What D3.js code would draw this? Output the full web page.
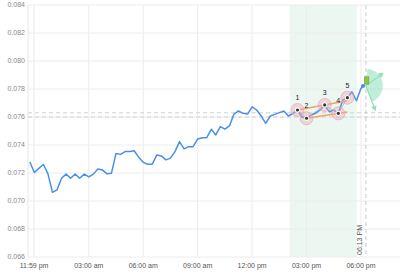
<!DOCTYPE html>
<html>
<head>
<meta charset="utf-8">
<script src="https://cdn.jsdelivr.net/npm/d3@7"></script>
<style>
  body { margin: 0; background: #fff; }
  svg { display: block; font-family: "Liberation Sans", Arial, sans-serif; }
</style>
</head>
<body>
<div id="chart"></div>
<script>
// price series, one value every 15 minutes from 23:45, then the live point
const startTime = "2024-01-01 23:45";
const stepMinutes = 15;
const prices = [
  0.07279, 0.07204, 0.07233, 0.07261, 0.07194, 0.07062, 0.07080, 0.07162,
  0.07192, 0.07162, 0.07192, 0.07162, 0.07192, 0.07172, 0.07192, 0.07229,
  0.07222, 0.07194, 0.07199, 0.07340, 0.07333, 0.07353, 0.07353, 0.07359,
  0.07313, 0.07276, 0.07263, 0.07263, 0.07329, 0.07322, 0.07294, 0.07306,
  0.07353, 0.07424, 0.07372, 0.07388, 0.07388, 0.07443, 0.07452, 0.07452,
  0.07512, 0.07472, 0.07531, 0.07514, 0.07536, 0.07621, 0.07643, 0.07626,
  0.07621, 0.07673, 0.07650, 0.07607, 0.07555, 0.07607, 0.07619, 0.07631,
  0.07643, 0.07607, 0.07626, 0.07650, 0.07600, 0.07591, 0.07614, 0.07627,
  0.07650, 0.07686, 0.07638, 0.07650, 0.07626, 0.07721, 0.07738, 0.07780,
  0.07716, 0.07805
];
const lastTime = "2024-01-02 18:13";
const lastPrice = 0.07828;

// axis
const xDomain = ["2024-01-01 23:39", "2024-01-02 20:09"];
const xTicks = ["2024-01-01 23:59", "2024-01-02 03:00", "2024-01-02 06:00",
  "2024-01-02 09:00", "2024-01-02 12:00", "2024-01-02 15:00", "2024-01-02 18:00"];
const yTicks = [0.066, 0.068, 0.070, 0.072, 0.074, 0.076, 0.078, 0.080, 0.082, 0.084];

// annotations
const bandRange = ["2024-01-02 14:04", "2024-01-02 17:46"];
const priceLines = [0.0763, 0.0760];
const patternLabels = ["1", "2", "3", "4", "5"];
const patternTimes = ["2024-01-02 14:30", "2024-01-02 15:00", "2024-01-02 16:00",
  "2024-01-02 16:45", "2024-01-02 17:15"];
const patternValues = [0.07650, 0.07591, 0.07686, 0.07626, 0.07738];
const trendUpper = [["2024-01-02 14:30", 0.07650], ["2024-01-02 17:15", 0.07716]];
const trendLower = [["2024-01-02 15:00", 0.07591], ["2024-01-02 17:15", 0.07636]];
const boxRange = [["2024-01-02 18:11", 0.07887], ["2024-01-02 18:26", 0.07835]];
const fanCenter = ["2024-01-02 18:16", 0.07823];
const fanEnds = [["2024-01-02 19:12", 0.07911], ["2024-01-02 18:47", 0.07650]];

const W = 400, H = 280;
const margin = {top: 5, right: 0, bottom: 23, left: 28};
const parse = d3.timeParse("%Y-%m-%d %H:%M");

const t0 = parse(startTime);
const series = prices.map((v, i) => ({t: d3.timeMinute.offset(t0, i * stepMinutes), v: v}));
series.push({t: parse(lastTime), v: lastPrice});

const x = d3.scaleTime()
  .domain(xDomain.map(parse))
  .range([margin.left, W - margin.right]);
const y = d3.scaleLinear()
  .domain([0.066, 0.084])
  .range([H - margin.bottom, margin.top]);

const svg = d3.select("#chart").append("svg")
  .attr("width", W)
  .attr("height", H);

// highlighted band
svg.append("rect")
  .attr("x", x(parse(bandRange[0])))
  .attr("y", margin.top)
  .attr("width", x(parse(bandRange[1])) - x(parse(bandRange[0])))
  .attr("height", y(0.066) - margin.top)
  .attr("fill", "#edf7f2");

// grid
svg.append("g").selectAll("line")
  .data(yTicks)
  .enter().append("line")
  .attr("x1", margin.left).attr("x2", W)
  .attr("y1", d => y(d)).attr("y2", d => y(d))
  .attr("stroke", "#ececec");

svg.append("g").selectAll("line")
  .data(xTicks.map(parse))
  .enter().append("line")
  .attr("x1", d => x(d)).attr("x2", d => x(d))
  .attr("y1", margin.top).attr("y2", y(0.066))
  .attr("stroke", "#ececec");

svg.append("line")
  .attr("x1", margin.left).attr("x2", margin.left)
  .attr("y1", margin.top).attr("y2", y(0.066))
  .attr("stroke", "#e6e6e6");

// y labels
svg.append("g").selectAll("text")
  .data(yTicks)
  .enter().append("text")
  .attr("x", margin.left - 3)
  .attr("y", d => y(d))
  .attr("dy", "0.35em")
  .attr("text-anchor", "end")
  .attr("font-size", 7)
  .attr("fill", "#888")
  .text(d3.format(".3f"));

// x labels
const fmt = d3.timeFormat("%I:%M %p");
svg.append("g").selectAll("text")
  .data(xTicks.map(parse))
  .enter().append("text")
  .attr("x", d => x(d))
  .attr("y", y(0.066) + 11)
  .attr("text-anchor", "middle")
  .attr("font-size", 7)
  .attr("fill", "#555")
  .text(d => fmt(d).toLowerCase());

// dashed price lines
svg.append("g").selectAll("line")
  .data(priceLines)
  .enter().append("line")
  .attr("x1", margin.left).attr("x2", W)
  .attr("y1", d => y(d)).attr("y2", d => y(d))
  .attr("stroke", "#d0d0d0")
  .attr("stroke-dasharray", "4,3");

// current time line
const tNow = parse(lastTime);
svg.append("line")
  .attr("x1", x(tNow) + 1).attr("x2", x(tNow) + 1)
  .attr("y1", margin.top).attr("y2", y(0.066))
  .attr("stroke", "#c8c8c8")
  .attr("stroke-dasharray", "4,3");
svg.append("text")
  .attr("transform", "translate(" + (x(tNow) - 3) + "," + (y(0.066) - 2) + ") rotate(-90)")
  .attr("font-size", 7)
  .attr("fill", "#555")
  .text(d3.timeFormat("%I:%M %p")(tNow));

// price line
const line = d3.line().x(d => x(d.t)).y(d => y(d.v));
svg.append("path")
  .datum(series)
  .attr("d", line)
  .attr("fill", "none")
  .attr("stroke", "#4a8fe7")
  .attr("stroke-width", 1.5)
  .attr("stroke-linejoin", "round");

svg.append("circle")
  .attr("cx", x(tNow) - 2).attr("cy", y(lastPrice) + 1)
  .attr("r", 2)
  .attr("fill", "#4a8fe7");

// pattern trend lines
const seg = d3.line().x(d => x(parse(d[0]))).y(d => y(d[1]));
[trendUpper, trendLower].forEach(function(tl) {
  svg.append("path")
    .attr("d", seg(tl))
    .attr("stroke", "#f3a262")
    .attr("stroke-width", 1.5)
    .attr("fill", "none");
});

const pts = patternTimes.map((t, i) => [t, patternValues[i]]);
svg.append("path")
  .attr("d", seg(pts))
  .attr("stroke", "#999")
  .attr("stroke-opacity", 0.6)
  .attr("stroke-width", 1)
  .attr("fill", "none");

const pg = svg.append("g").selectAll("g")
  .data(pts)
  .enter().append("g")
  .attr("transform", d => "translate(" + x(parse(d[0])) + "," + y(d[1]) + ")");
pg.append("circle").attr("r", 6.5)
  .attr("fill", "rgba(232,165,180,0.4)")
  .attr("stroke", "rgba(232,165,180,0.7)");
pg.append("circle").attr("r", 2.6).attr("fill", "#fff");
pg.append("circle").attr("r", 1.6).attr("fill", "#333");
pg.append("text")
  .attr("y", -10)
  .attr("text-anchor", "middle")
  .attr("font-size", 7)
  .attr("fill", "#222")
  .text((d, i) => patternLabels[i]);

// fan drawing
const fc = [x(parse(fanCenter[0])), y(fanCenter[1])];
svg.append("path")
  .attr("transform", "translate(" + fc[0] + "," + fc[1] + ")")
  .attr("d", d3.arc()({innerRadius: 0, outerRadius: 17, startAngle: 0.1, endAngle: 2.78}))
  .attr("fill", "rgba(130,222,180,0.5)");

fanEnds.forEach(function(e) {
  const ex = x(parse(e[0])), ey = y(e[1]);
  svg.append("line")
    .attr("x1", fc[0]).attr("y1", fc[1])
    .attr("x2", ex).attr("y2", ey)
    .attr("stroke", "#8fe0bb")
    .attr("stroke-width", 1.2);
  const ang = Math.atan2(ey - fc[1], ex - fc[0]) * 180 / Math.PI;
  svg.append("path")
    .attr("transform", "translate(" + ex + "," + ey + ") rotate(" + ang + ")")
    .attr("d", "M1,0L-4,-3L-4,3Z")
    .attr("fill", "#8fe0bb");
});

// box marker
svg.append("rect")
  .attr("x", x(parse(boxRange[0][0])))
  .attr("y", y(boxRange[0][1]))
  .attr("width", x(parse(boxRange[1][0])) - x(parse(boxRange[0][0])))
  .attr("height", y(boxRange[1][1]) - y(boxRange[0][1]))
  .attr("fill", "#8cc63f")
  .attr("stroke", "#6aa22a")
  .attr("stroke-width", 0.6);
</script>
</body>
</html>
